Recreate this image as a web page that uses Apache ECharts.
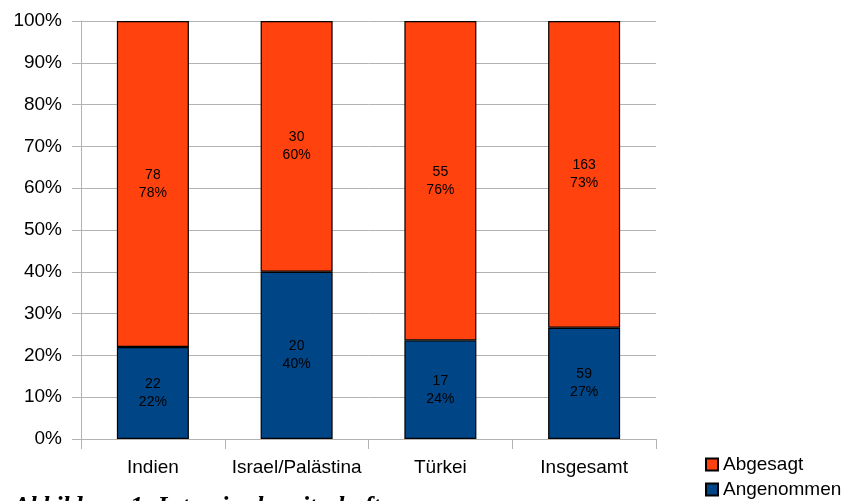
<!DOCTYPE html>
<html>
<head>
<meta charset="utf-8">
<script src="https://cdn.jsdelivr.net/npm/echarts@6/dist/echarts.min.js"></script>
<style>html,body{margin:0;padding:0;background:#fff}#c{width:853px;height:501px}</style>
</head>
<body>
<div id="c"></div>
<script>
var categories = ['Indien', 'Israel/Palästina', 'Türkei', 'Insgesamt'];
var angenommenShare = [22, 40, 23.6, 26.6];
var abgesagtShare = [78, 60, 76.4, 73.4];
var angenommenCount = [22, 20, 17, 59];
var abgesagtCount = [78, 30, 55, 163];
var angenommenPctLabel = ['22%', '40%', '24%', '27%'];
var abgesagtPctLabel = ['78%', '60%', '76%', '73%'];
var yTicks = [0, 10, 20, 30, 40, 50, 60, 70, 80, 90, 100];

var chart = echarts.init(document.getElementById('c'));
var font = 'Liberation Sans, Arial, sans-serif';
var labelStyle = function (counts, pcts) {
  return {
    show: true, position: 'inside', color: '#000', fontSize: 14, lineHeight: 18,
    fontFamily: font,
    formatter: function (p) { return counts[p.dataIndex] + '\n' + pcts[p.dataIndex]; }
  };
};
var legendBase = {
  orient: 'vertical', left: 705, itemWidth: 12, itemHeight: 12, padding: 0,
  icon: 'rect', textStyle: { fontFamily: font, fontSize: 19, color: '#000' }
};
chart.setOption({
  animation: false,
  title: {
    text: 'Abbildung 1: Interviewbereitschaft', left: 13, top: 494, padding: 0,
    textStyle: { fontFamily: 'Liberation Serif, serif', fontStyle: 'italic', fontWeight: 'bold', fontSize: 25.5, color: '#000' }
  },
  legend: [
    Object.assign({}, legendBase, { top: 455, data: ['Abgesagt'] }),
    Object.assign({}, legendBase, { top: 480, data: ['Angenommen'] })
  ],
  grid: { left: 81, right: 197, top: 21, bottom: 62 },
  xAxis: {
    type: 'category', data: categories,
    axisLine: { lineStyle: { color: '#b3b3b3', width: 1 } },
    axisTick: { show: true, length: 10, interval: 0, lineStyle: { color: '#b3b3b3' } },
    axisLabel: { color: '#000', fontSize: 19, fontFamily: font, margin: 19, interval: 0 }
  },
  yAxis: {
    type: 'value', min: yTicks[0], max: yTicks[yTicks.length - 1], interval: 10,
    axisLine: { show: true, lineStyle: { color: '#b3b3b3', width: 1 } },
    axisTick: { show: true, length: 9, lineStyle: { color: '#b3b3b3' } },
    splitLine: { lineStyle: { color: '#b3b3b3', width: 1 } },
    axisLabel: { color: '#000', fontSize: 19, fontFamily: font, margin: 19, formatter: '{value}%' }
  },
  series: [
    {
      name: 'Angenommen', type: 'bar', stack: 's', data: angenommenShare, barWidth: 72,
      itemStyle: { color: '#004586', borderColor: '#000', borderWidth: 1.2 },
      label: labelStyle(angenommenCount, angenommenPctLabel)
    },
    {
      name: 'Abgesagt', type: 'bar', stack: 's', data: abgesagtShare, barWidth: 72,
      itemStyle: { color: '#ff420e', borderColor: '#000', borderWidth: 1.2 },
      label: labelStyle(abgesagtCount, abgesagtPctLabel)
    }
  ]
});
</script>
</body>
</html>
